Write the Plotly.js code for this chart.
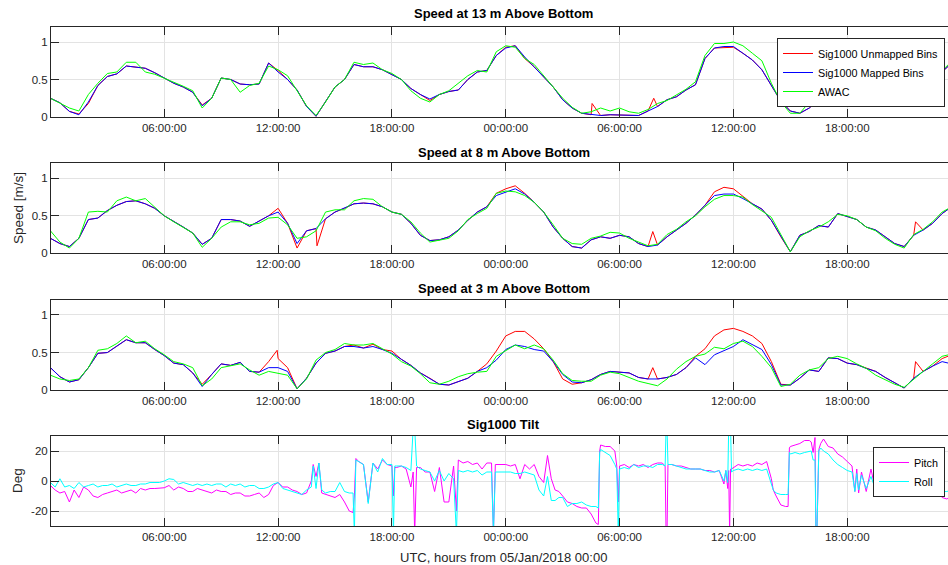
<!DOCTYPE html>
<html>
<head>
<meta charset="utf-8">
<script src="https://cdn.plot.ly/plotly-3.0.1.min.js"></script>
<style>html,body{margin:0;padding:0;background:#fff;}#chart{width:948px;height:565px;}</style>
</head>
<body>
<div id="chart"></div>
<script>
// ---------- DATA (hours from 05/Jan/2018 00:00) ----------
const hours = [0,0.5,1,1.5,2,2.5,3,3.5,4,4.5,5,5.5,
  6,6.5,7,7.5,8,8.5,9,9.5,10,10.5,11,11.5,
  12,12.5,13,13.5,14,14.5,15,15.5,16,16.5,17,17.5,
  18,18.5,19,19.5,20,20.5,21,21.5,22,22.5,23,23.5,
  24,24.5,25,25.5,26,26.5,27,27.5,28,28.5,29,29.5,
  30,30.5,31,31.5,32,32.5,33,33.5,34,34.5,35,35.5,
  36,36.5,37,37.5,38,38.5,39,39.5,40,40.5,41,41.5,
  42,42.5,43,43.5,44,44.5,45,45.5,46,46.5,47,47.5];

// Speed at 13 m
const p1Unmapped = [0.25,0.19,0.075,0.04,0.18,0.42,0.54,0.575,0.68,0.67,0.65,0.59,
  0.52,0.45,0.40,0.33,0.16,0.25,0.52,0.50,0.44,0.43,0.44,0.72,
  0.62,0.50,0.36,0.14,0.01,0.20,0.40,0.50,0.70,0.67,0.67,0.63,
  0.56,0.50,0.38,0.30,0.22,0.30,0.34,0.36,0.50,0.60,0.62,0.82,
  0.93,0.95,0.78,0.67,0.54,0.40,0.23,0.12,0.05,0.03,0.02,0.03,
  0.03,0.03,0.02,0.08,0.14,0.23,0.27,0.36,0.43,0.78,0.92,0.92,
  0.93,0.85,0.76,0.63,0.41,0.21,0.08,0.05,0.12,0.23,0.30,0.19,
  0.15,0.21,0.25,0.27,0.25,0.21,0.19,0.32,0.41,0.50,0.60,0.72];
const p1UnmappedSpikeHours = [28.55, 31.8];
const p1UnmappedSpikeValues = [0.18, 0.25];
const p1Mapped = [0.25,0.19,0.075,0.03,0.20,0.42,0.54,0.575,0.68,0.67,0.65,0.59,
  0.52,0.45,0.40,0.33,0.15,0.25,0.52,0.50,0.44,0.43,0.44,0.72,
  0.60,0.50,0.36,0.14,0.01,0.20,0.40,0.50,0.70,0.67,0.67,0.63,
  0.56,0.50,0.38,0.30,0.24,0.30,0.34,0.36,0.50,0.60,0.62,0.82,
  0.92,0.95,0.80,0.67,0.54,0.40,0.23,0.12,0.05,0.03,0.02,0.03,
  0.03,0.03,0.02,0.08,0.14,0.23,0.27,0.36,0.43,0.78,0.92,0.94,
  0.94,0.85,0.76,0.63,0.41,0.21,0.08,0.05,0.12,0.23,0.30,0.19,
  0.15,0.21,0.25,0.27,0.25,0.21,0.19,0.32,0.41,0.50,0.60,0.72];
const p1AWAC = [0.25,0.19,0.12,0.08,0.30,0.45,0.58,0.60,0.73,0.73,0.60,0.57,
  0.52,0.47,0.41,0.35,0.12,0.25,0.52,0.50,0.33,0.42,0.45,0.68,
  0.63,0.55,0.35,0.15,0.02,0.20,0.40,0.50,0.73,0.70,0.72,0.63,
  0.58,0.50,0.35,0.25,0.20,0.30,0.35,0.45,0.55,0.62,0.60,0.87,
  0.95,0.93,0.78,0.70,0.55,0.40,0.25,0.13,0.05,0.07,0.12,0.08,
  0.12,0.07,0.05,0.10,0.18,0.22,0.30,0.37,0.47,0.82,0.98,0.98,
  1.00,0.95,0.85,0.75,0.45,0.20,0.05,0.05,0.20,0.27,0.35,0.30,
  0.22,0.18,0.27,0.28,0.25,0.20,0.22,0.30,0.40,0.50,0.62,0.74];

// Speed at 8 m
const p2Unmapped = [0.20,0.13,0.09,0.20,0.45,0.47,0.57,0.64,0.69,0.70,0.66,0.60,
  0.50,0.43,0.35,0.27,0.12,0.20,0.45,0.45,0.43,0.36,0.43,0.50,
  0.60,0.40,0.07,0.30,0.33,0.46,0.55,0.60,0.66,0.67,0.66,0.62,
  0.55,0.52,0.40,0.24,0.17,0.18,0.22,0.31,0.44,0.55,0.62,0.80,
  0.86,0.90,0.80,0.68,0.55,0.35,0.20,0.09,0.07,0.18,0.22,0.20,
  0.24,0.22,0.13,0.09,0.11,0.22,0.31,0.40,0.51,0.64,0.82,0.88,
  0.86,0.76,0.66,0.59,0.44,0.22,0.02,0.24,0.29,0.37,0.35,0.53,
  0.49,0.45,0.35,0.31,0.22,0.13,0.09,0.24,0.31,0.40,0.53,0.62];
const p2UnmappedSpikeHours = [14.05, 31.75, 45.6];
const p2UnmappedSpikeValues = [0.10, 0.29, 0.42];
const p2Mapped = [0.20,0.13,0.09,0.20,0.45,0.47,0.57,0.64,0.69,0.70,0.66,0.60,
  0.50,0.43,0.35,0.27,0.12,0.20,0.45,0.45,0.43,0.36,0.43,0.50,
  0.55,0.40,0.13,0.30,0.33,0.46,0.55,0.60,0.66,0.67,0.66,0.62,
  0.55,0.52,0.40,0.24,0.17,0.18,0.22,0.31,0.44,0.55,0.62,0.77,
  0.81,0.86,0.79,0.68,0.55,0.35,0.20,0.09,0.07,0.18,0.22,0.20,
  0.24,0.22,0.13,0.09,0.11,0.22,0.31,0.40,0.51,0.64,0.77,0.79,
  0.79,0.73,0.66,0.59,0.44,0.22,0.02,0.24,0.29,0.37,0.35,0.53,
  0.49,0.45,0.35,0.31,0.22,0.13,0.09,0.24,0.31,0.40,0.53,0.62];
const p2AWAC = [0.30,0.15,0.07,0.20,0.55,0.56,0.55,0.70,0.75,0.70,0.73,0.62,
  0.50,0.42,0.35,0.27,0.08,0.20,0.35,0.42,0.42,0.38,0.40,0.47,
  0.48,0.38,0.20,0.22,0.30,0.55,0.58,0.58,0.70,0.73,0.72,0.62,
  0.55,0.52,0.42,0.27,0.15,0.17,0.20,0.30,0.45,0.53,0.60,0.80,
  0.83,0.82,0.77,0.68,0.55,0.38,0.20,0.13,0.12,0.20,0.23,0.28,
  0.27,0.20,0.15,0.10,0.12,0.25,0.32,0.42,0.50,0.62,0.72,0.77,
  0.77,0.75,0.65,0.57,0.48,0.25,0.02,0.22,0.30,0.35,0.42,0.52,
  0.50,0.45,0.35,0.30,0.20,0.12,0.07,0.25,0.32,0.42,0.55,0.62];

// Speed at 3 m
const p3Unmapped = [0.30,0.18,0.11,0.14,0.30,0.49,0.50,0.58,0.67,0.63,0.63,0.54,
  0.46,0.36,0.34,0.23,0.08,0.21,0.35,0.33,0.37,0.25,0.24,0.38,
  0.42,0.30,0.02,0.16,0.36,0.49,0.52,0.58,0.60,0.56,0.61,0.54,
  0.52,0.41,0.33,0.23,0.16,0.08,0.07,0.12,0.16,0.25,0.35,0.52,
  0.72,0.78,0.78,0.68,0.55,0.38,0.15,0.08,0.10,0.14,0.21,0.25,
  0.24,0.23,0.17,0.15,0.15,0.17,0.21,0.30,0.45,0.55,0.72,0.80,
  0.82,0.78,0.72,0.62,0.38,0.08,0.07,0.16,0.27,0.25,0.43,0.42,
  0.36,0.34,0.29,0.25,0.17,0.10,0.03,0.16,0.25,0.32,0.42,0.47];
const p3UnmappedSpikeHours = [11.95, 31.75, 45.6];
const p3UnmappedSpikeValues = [0.53, 0.30, 0.38];
const p3Mapped = [0.30,0.18,0.11,0.14,0.30,0.49,0.50,0.58,0.67,0.63,0.63,0.54,
  0.46,0.36,0.34,0.23,0.05,0.21,0.35,0.33,0.37,0.25,0.24,0.30,
  0.30,0.25,0.02,0.16,0.36,0.49,0.52,0.58,0.58,0.56,0.58,0.54,
  0.49,0.41,0.33,0.23,0.16,0.08,0.07,0.12,0.16,0.25,0.30,0.40,
  0.54,0.60,0.58,0.54,0.52,0.38,0.21,0.11,0.10,0.14,0.21,0.25,
  0.24,0.23,0.17,0.15,0.15,0.17,0.21,0.30,0.43,0.34,0.47,0.52,
  0.58,0.67,0.60,0.54,0.34,0.07,0.07,0.16,0.27,0.25,0.43,0.42,
  0.36,0.34,0.29,0.25,0.17,0.10,0.03,0.16,0.25,0.32,0.38,0.35];
const p3AWAC = [0.20,0.15,0.13,0.15,0.30,0.53,0.55,0.62,0.72,0.63,0.65,0.55,
  0.47,0.38,0.35,0.30,0.06,0.15,0.30,0.33,0.35,0.27,0.20,0.25,
  0.22,0.20,0.02,0.15,0.40,0.50,0.54,0.62,0.60,0.60,0.62,0.55,
  0.48,0.38,0.32,0.22,0.10,0.08,0.12,0.18,0.22,0.24,0.25,0.45,
  0.52,0.60,0.55,0.60,0.55,0.40,0.22,0.13,0.12,0.12,0.20,0.24,
  0.22,0.17,0.12,0.09,0.06,0.15,0.28,0.38,0.45,0.48,0.57,0.55,
  0.62,0.65,0.58,0.45,0.30,0.05,0.08,0.20,0.27,0.30,0.42,0.45,
  0.42,0.35,0.29,0.20,0.14,0.08,0.04,0.15,0.25,0.35,0.45,0.48];

// Sig1000 tilt
const tiltHours = [0,0.25,0.5,0.75,1,1.25,1.5,1.75,2,2.25,2.5,2.75,3,3.25,3.5,3.75,4,4.25,4.5,4.75,5,5.25,5.5,5.75,
  6,6.25,6.5,6.75,7,7.25,7.5,7.75,8,8.25,8.5,8.75,9,9.25,9.5,9.75,10,10.25,10.5,10.75,11,11.25,11.5,11.75,12,
  12.25,12.5,12.75,13,13.25,13.5,13.75,13.85,14,14.15,14.3,14.5,14.75,15,15.25,15.5,15.75,15.95,16.02,16.1,
  16.25,16.5,16.75,17,17.25,17.5,17.75,18,18.08,18.15,18.25,18.5,18.75,19,19.12,19.2,19.3,19.5,19.75,20,
  20.25,20.5,20.75,21,21.25,21.4,21.5,21.75,22,22.25,22.5,22.75,23,23.25,23.35,23.45,23.75,24,
  24.25,24.5,24.75,25,25.25,25.5,25.75,26,26.2,26.4,26.6,26.8,27,27.25,27.5,27.75,28,28.25,28.5,28.75,
  28.88,28.95,29,29.25,29.5,29.75,29.85,29.93,30,30.25,30.5,30.75,31,31.25,31.5,31.75,32,32.25,32.4,32.45,
  32.5,32.55,32.75,33,33.25,33.5,33.75,34,34.25,34.5,34.75,35,35.25,35.5,35.6,35.7,35.75,35.8,35.85,35.9,36,
  36.25,36.5,36.75,37,37.25,37.5,37.75,38,38.1,38.25,38.5,38.75,38.88,38.95,39,39.25,39.5,39.75,40,40.1,
  40.2,40.3,40.35,40.4,40.5,40.6,40.75,41,41.25,41.5,41.75,42,42.25,42.4,42.5,42.6,42.75,43,43.25,43.5,
  43.75,44,44.25,44.5,44.75,45,45.25,45.5,45.75,46,46.25,46.5,46.75,47,47.25,47.5];
const pitch = [-3,-6,-8,-7,-14,-6,-11,-4,-6,-10,-11,-9,-8,-7,-6,-8,-7,-6,-8,-5,-6,-5,-5,-5,
  -4.5,-3,-6,-4,-5,-7,-7,-5,-6,-7,-8,-6,-7,-7,-9,-8,-8,-10,-10,-9,-8,-11,-9,-3,-1,
  -4,-4,-6,-7,-9,-8,0,11,3,12,-8,-9,-10,-11,-9,-14,-20,-21,-10,15,
  13,11,-14,12,8,14,11,10,-10,9,9,10,8,-4,6,-35,9,9,6,6,
  -7,9,-14,-14,10,-20,14,12,13,11,12,8,12,12,-35,11,11,11,
  10,11,1.5,11,8,11,3,-1,17,1.5,-6,-7,-10,-14,-15,-17,-18,-18,-22,-28,
  -29,20,24,23,23,20,10,-14,10,11,9,11,10,11,9,11,12,12,10,-35,
  -35,11,11,10,10,9,8,8,8,7,7,6,7,-2,7,-5,7,-35,8,8,9,
  11,10,11,10,12,11,13,1.5,-6,-10,-16,-17,-17,22,23,24,25,27,27,26,
  19,29,-35,-35,21,25,28,23,22,18,16,13,10,-7,8,-8,6,-7,8,-7,
  -9,-5,-8,-6,-9,-10,-9,-2,-8,-9,-1,-10,-3,-11,-12,-10];
const roll = [-1,-4,1.5,-4,-3,-5,-1,-4,-3,-2,-4,-3,-3,-2,-4,-3,-2,-3,-3,-2,-2,-1,-1,-1,
  0,1.5,1,-2,-1,-2,-3,-2,-3,-2,-3,-2,-2,-4,-2,-3,-2,-4,-3,-3,-5,-5,-4,-2,-1,
  -5,-6,-7,-8,-9,-6,-4,10,-5,12,-6,-8,-7,-7,-1,-7,-8,-8,-35,14,
  13,11,-15,12,6,15,11,11,-35,10,10,10,9,7,35,35,10,8,7,6,
  0,7,0,5,1.5,-35,7,6,7,6,7,4,6,6,-35,6,6,6,
  6,5,5,6,5,4,-6,-10,3,-13,-13,-11,-11,-17,-15,-15,-14,-16,-17,-17,
  -18,19,21,19,17,11,8,-35,8,9,8,11,9,10,10,9,11,11,10,35,
  35,11,11,10,9,8,8,8,8,7,6,6,7,0,7,-1,35,35,35,6,7,
  8,7,8,7,8,7,8,-1,-6,-8,-9,-9,-9,19,18,19,18,19,20,20,
  14,14,-35,-35,20,22,20,18,14,11,9,7,6,-7,5,-6,4,-5,3,-6,
  -5,-3,-5,-4,-5,-5,-4,-1,-5,-5,-1,-6,-2,-7,-7,-6];

const seriesNames = ['Sig1000 Unmapped Bins', 'Sig1000 Mapped Bins', 'AWAC'];
const tiltNames = ['Pitch', 'Roll'];
const panelTitles = ['Speed at 13 m Above Bottom', 'Speed at 8 m Above Bottom', 'Speed at 3 m Above Bottom', 'Sig1000 Tilt'];

// ---------- helpers ----------
function toDate(h) {
  const d = new Date(Date.UTC(2018, 0, 5) + Math.round(h * 3600000));
  return d.toISOString().replace('T', ' ').slice(0, 19);
}
function merged(hs, vals, sh, sv) {
  const pts = hs.map((h, i) => [h, vals[i]]).concat(sh.map((h, i) => [h, sv[i]]));
  pts.sort((a, b) => a[0] - b[0]);
  return {x: pts.map(p => toDate(p[0])), y: pts.map(p => p[1])};
}
const X = hours.map(toDate);
const FONT = '"Liberation Sans", Arial, Helvetica, sans-serif';
const AX = '#262626';
const COLORS = ['#ff0000', '#0000ff', '#00ff00'];

const traces = [];
const speedPanels = [
  [p1Unmapped, p1UnmappedSpikeHours, p1UnmappedSpikeValues, p1Mapped, p1AWAC],
  [p2Unmapped, p2UnmappedSpikeHours, p2UnmappedSpikeValues, p2Mapped, p2AWAC],
  [p3Unmapped, p3UnmappedSpikeHours, p3UnmappedSpikeValues, p3Mapped, p3AWAC]
];
speedPanels.forEach((p, i) => {
  const xa = i === 0 ? 'x' : 'x' + (i + 1);
  const ya = i === 0 ? 'y' : 'y' + (i + 1);
  const r = merged(hours, p[0], p[1], p[2]);
  const common = {type: 'scatter', mode: 'lines', xaxis: xa, yaxis: ya, showlegend: i === 0, legend: 'legend', hoverinfo: 'skip'};
  traces.push(Object.assign({}, common, {x: r.x, y: r.y, name: seriesNames[0], line: {color: COLORS[0], width: 1}}));
  traces.push(Object.assign({}, common, {x: X, y: p[3], name: seriesNames[1], line: {color: COLORS[1], width: 1}}));
  traces.push(Object.assign({}, common, {x: X, y: p[4], name: seriesNames[2], line: {color: COLORS[2], width: 1}}));
});
const TX = tiltHours.map(toDate);
traces.push({type: 'scatter', mode: 'lines', x: TX, y: pitch, name: tiltNames[0], xaxis: 'x4', yaxis: 'y4', legend: 'legend2', line: {color: '#ff00ff', width: 1}, hoverinfo: 'skip'});
traces.push({type: 'scatter', mode: 'lines', x: TX, y: roll, name: tiltNames[1], xaxis: 'x4', yaxis: 'y4', legend: 'legend2', line: {color: '#00ffff', width: 1}, hoverinfo: 'skip'});

// ---------- layout ----------
const W = 948, H = 565;
const xDom = [51 / W, 1];
const panelsPx = [[27, 117], [163.3, 253.3], [299.7, 390.3], [436, 526]];
function xax(anchor) {
  return {type: 'date', domain: xDom, anchor: anchor, range: [toDate(0.03), toDate(47.31)],
    tickformat: '%H:%M:%S', tick0: toDate(0), dtick: 21600000,
    ticks: 'inside', ticklen: 8, tickcolor: AX, tickwidth: 1,
    showline: true, linecolor: AX, linewidth: 1, mirror: 'ticks',
    showgrid: true, gridcolor: '#e3e3e3', gridwidth: 1, zeroline: false,
    tickfont: {family: FONT, size: 11.5, color: AX}, fixedrange: true};
}
function yax(i, anchor, range, tv, tt) {
  const p = panelsPx[i];
  return {domain: [1 - p[1] / H, 1 - p[0] / H], anchor: anchor, range: range,
    tickvals: tv, ticktext: tt,
    ticks: 'inside', ticklen: 8, tickcolor: AX, tickwidth: 1,
    showline: true, linecolor: AX, linewidth: 1, mirror: false,
    showgrid: true, gridcolor: '#e3e3e3', gridwidth: 1, zeroline: false,
    tickfont: {family: FONT, size: 11.5, color: AX}, fixedrange: true};
}
const spTicks = [0, 0.5, 1], spText = ['0', '0.5', '1'];
const tiTicks = [-20, 0, 20], tiText = ['-20', '0', '20'];

const titleY = [14, 152.5, 288.7, 425];
const annotations = panelTitles.map((t, i) => ({
  text: '<b>' + t + '</b>', xref: 'paper', yref: 'paper', x: 504 / W, y: 1 - titleY[i] / H,
  xanchor: 'center', yanchor: 'middle', showarrow: false, font: {family: FONT, size: 13, color: '#000'}
}));
annotations.push({text: 'Speed [m/s]', xref: 'paper', yref: 'paper', x: 18 / W, y: 1 - 208 / H, textangle: -90,
  xanchor: 'center', yanchor: 'middle', showarrow: false, font: {family: FONT, size: 13.5, color: AX}});
annotations.push({text: 'Deg', xref: 'paper', yref: 'paper', x: 18 / W, y: 1 - 481 / H, textangle: -90,
  xanchor: 'center', yanchor: 'middle', showarrow: false, font: {family: FONT, size: 13.5, color: AX}});
annotations.push({text: 'UTC, hours from 05/Jan/2018 00:00', xref: 'paper', yref: 'paper', x: 504 / W, y: 1 - 557 / H,
  xanchor: 'center', yanchor: 'middle', showarrow: false, font: {family: FONT, size: 13, color: AX}});

const legendStyle = {bgcolor: '#ffffff', bordercolor: AX, borderwidth: 1, font: {family: FONT, size: 10.8, color: '#000'},
  tracegroupgap: 0, xanchor: 'right', yanchor: 'top', itemclick: false, itemdoubleclick: false};

const layout = {
  width: W, height: H, margin: {l: 0, r: 0, t: 0, b: 0}, paper_bgcolor: '#ffffff', plot_bgcolor: '#ffffff',
  showlegend: true,
  xaxis: xax('y'), xaxis2: xax('y2'), xaxis3: xax('y3'), xaxis4: xax('y4'),
  yaxis: yax(0, 'x', [0, 1.2], spTicks, spText),
  yaxis2: yax(1, 'x2', [0, 1.2], spTicks, spText),
  yaxis3: yax(2, 'x3', [0, 1.2], spTicks, spText),
  yaxis4: yax(3, 'x4', [-30, 30], tiTicks, tiText),
  legend: Object.assign({}, legendStyle, {x: 945 / W, y: 1 - 38 / H}),
  legend2: Object.assign({}, legendStyle, {x: 945 / W, y: 1 - 447 / H}),
  annotations: annotations
};
Plotly.newPlot('chart', traces, layout, {staticPlot: true, displayModeBar: false});
</script>
</body>
</html>
